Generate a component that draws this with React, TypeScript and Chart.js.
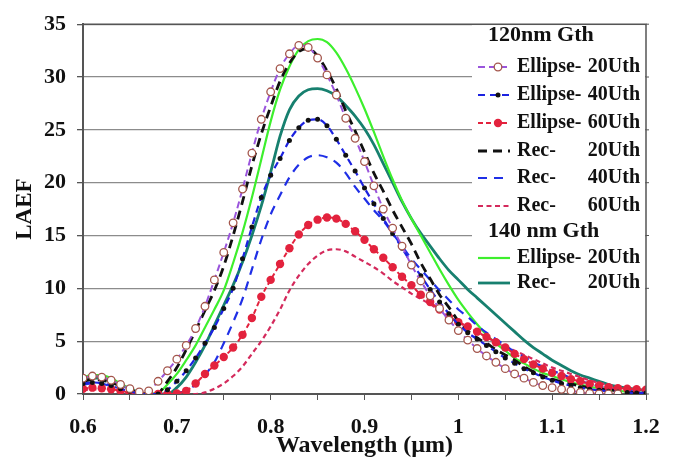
import { useEffect, useRef } from "react";
import { Chart, registerables } from "chart.js";

Chart.register(...registerables);

// Wavelength samples (µm)
const wavelength = [
  0.60, 0.61, 0.62, 0.63, 0.64, 0.65, 0.66, 0.67, 0.68, 0.69,
  0.70, 0.71, 0.72, 0.73, 0.74, 0.75, 0.76, 0.77, 0.78, 0.79,
  0.80, 0.81, 0.82, 0.83, 0.84, 0.85, 0.86, 0.87, 0.88, 0.89,
  0.90, 0.91, 0.92, 0.93, 0.94, 0.95, 0.96, 0.97, 0.98, 0.99,
  1.00, 1.01, 1.02, 1.03, 1.04, 1.05, 1.06, 1.07, 1.08, 1.09,
  1.10, 1.11, 1.12, 1.13, 1.14, 1.15, 1.16, 1.17, 1.18, 1.19,
  1.20,
];

// 120 nm Gth
const ellipse20 = [
  1.5, 1.7, 1.6, 1.3, 0.9, 0.5, 0.2, 0.3, 1.2, 2.2,
  3.3, 4.6, 6.2, 8.3, 10.8, 13.4, 16.2, 19.4, 22.8, 26.0,
  28.6, 30.8, 32.2, 33.0, 32.8, 31.8, 30.2, 28.3, 26.1, 24.2,
  22.0, 19.7, 17.5, 15.7, 14.0, 12.2, 10.7, 9.3, 8.1, 7.0,
  6.0, 5.1, 4.3, 3.6, 3.0, 2.4, 1.9, 1.5, 1.1, 0.8,
  0.6, 0.45, 0.3, 0.15, 0.05, 0.0, 0.0, 0.0,
];
const ellipse40 = [
  1.0, 1.1, 1.0, 0.8, 0.5, 0.25, 0.05, 0.0, 0.0, 0.4,
  1.2, 2.2, 3.4, 4.8, 6.3, 8.1, 10.0, 12.8, 15.8, 18.6,
  20.7, 22.3, 24.0, 25.2, 25.9, 26.0, 25.4, 24.1, 22.6, 21.1,
  19.5, 18.0, 16.6, 15.2, 13.8, 12.4, 11.2, 9.9, 8.7, 7.6,
  6.6, 5.8, 5.2, 4.6, 4.0, 3.4, 2.9, 2.4, 2.0, 1.6,
  1.3, 1.0, 0.8, 0.6, 0.45, 0.35, 0.25, 0.2, 0.15, 0.1,
  0.1,
];
const ellipse60 = [
  0.5, 0.6, 0.55, 0.45, 0.3, 0.15, 0.05, 0.0, 0.0, 0.0,
  0.05, 0.3, 1.0, 1.9, 2.7, 3.5, 4.4, 5.6, 7.2, 9.2,
  10.8, 12.3, 13.8, 15.1, 16.0, 16.5, 16.7, 16.6, 16.1, 15.4,
  14.6, 13.7, 12.9, 12.0, 11.1, 10.3, 9.4, 8.7, 8.0, 7.3,
  6.8, 6.4, 5.9, 5.4, 4.9, 4.4, 3.8, 3.3, 2.8, 2.4,
  2.0, 1.7, 1.4, 1.2, 0.95, 0.8, 0.65, 0.55, 0.5, 0.45,
  0.4,
];
const rec20 = [
  1.2, 1.35, 1.3, 1.1, 0.75, 0.4, 0.1, 0.0, 0.1, 1.2,
  2.5, 4.2, 6.0, 7.9, 9.8, 12.1, 15.0, 18.2, 21.6, 24.6,
  27.2, 29.6, 31.3, 32.4, 32.7, 32.0, 30.6, 28.9, 26.8, 24.9,
  22.9, 20.9, 19.2, 17.4, 15.8, 14.2, 12.4, 10.9, 9.4, 8.2,
  6.9, 6.0, 5.3, 4.8, 4.2, 3.7, 3.2, 2.6, 2.1, 1.7,
  1.4, 1.15, 0.95, 0.75, 0.6, 0.5, 0.4, 0.3, 0.2, 0.12,
  0.08,
];
const rec40 = [
  0.9, 1.0, 0.95, 0.75, 0.5, 0.25, 0.05, 0.0, 0.0, 0.0,
  0.1, 0.3, 0.9, 1.8, 3.0, 4.8, 6.8, 9.0, 11.8, 14.6,
  17.0, 18.8, 20.5, 21.7, 22.4, 22.6, 22.4, 21.9, 20.9, 19.6,
  18.5, 17.4, 16.4, 15.2, 14.0, 12.8, 11.8, 10.8, 9.8, 8.9,
  8.0, 7.3, 6.5, 5.8, 5.2, 4.6, 4.0, 3.5, 3.0, 2.6,
  2.2, 1.9, 1.5, 1.2, 1.0, 0.75, 0.55, 0.4, 0.3, 0.2,
  0.15,
];
const rec60 = [
  0.35, 0.45, 0.4, 0.3, 0.2, 0.1, 0.02, 0.0, 0.0, 0.0,
  0.0, 0.0, 0.0, 0.15, 0.5, 1.0, 1.7, 2.6, 3.8, 5.0,
  6.4, 8.0, 9.8, 11.2, 12.3, 13.1, 13.6, 13.7, 13.5, 13.0,
  12.5, 12.0, 11.4, 10.7, 10.1, 9.5, 9.0, 8.5, 7.9, 7.3,
  6.8, 6.3, 5.8, 5.4, 4.9, 4.5, 4.1, 3.7, 3.3, 2.9,
  2.5, 2.2, 1.9, 1.6, 1.3, 1.05, 0.85, 0.7, 0.55, 0.45,
  0.35,
];

// 140 nm Gth
const ellipse20Gth140 = [
  1.6, 1.8, 1.8, 1.5, 1.0, 0.5, 0.1, 0.0, 0.1, 0.9,
  1.9, 3.2, 4.6, 6.3, 8.0, 9.8, 12.4, 15.3, 18.6, 22.2,
  25.8, 28.8, 31.0, 32.6, 33.4, 33.6, 33.3, 32.3, 30.8, 29.0,
  27.0, 24.8, 22.5, 20.3, 18.3, 16.6, 15.0, 13.4, 11.8, 10.3,
  8.9, 7.7, 6.6, 5.6, 4.8, 4.1, 3.4, 2.9, 2.4, 2.0,
  1.7, 1.4, 1.1, 0.9, 0.7, 0.55, 0.42, 0.3, 0.22, 0.15,
  0.1,
];
const rec20Gth140 = [
  1.3, 1.5, 1.5, 1.3, 0.9, 0.5, 0.15, 0.0, 0.0, 0.0,
  0.6, 1.6, 3.0, 4.6, 6.5, 8.4, 10.3, 12.5, 15.0, 17.8,
  21.0, 24.4, 26.9, 28.2, 28.8, 28.9, 28.7, 28.2, 27.3, 26.3,
  25.1, 23.6, 21.8, 20.0, 18.2, 16.6, 15.2, 14.0, 12.8, 11.7,
  10.8, 9.9, 9.1, 8.3, 7.5, 6.7, 5.9, 5.1, 4.4, 3.8,
  3.2, 2.7, 2.2, 1.8, 1.5, 1.2, 0.9, 0.7, 0.55, 0.45,
  0.35,
];

const yTicks = [0, 5, 10, 15, 20, 25, 30, 35];
const xTickValues = [0.6, 0.7, 0.8, 0.9, 1.0, 1.1, 1.2];
const xTickLabels = ["0.6", "0.7", "0.8", "0.9", "1", "1.1", "1.2"];

const SERIF = "'Liberation Serif', 'Times New Roman', serif";

const toPoints = (ys: number[]) => ys.map((y, i) => ({ x: wavelength[i], y }));

type Row =
  | { kind: "header"; text: string }
  | { kind: "entry"; ds: number; name: string; tag: string };

const legendRows: Row[] = [
  { kind: "header", text: "120nm Gth" },
  { kind: "entry", ds: 0, name: "Ellipse-", tag: "20Uth" },
  { kind: "entry", ds: 1, name: "Ellipse-", tag: "40Uth" },
  { kind: "entry", ds: 2, name: "Ellipse-", tag: "60Uth" },
  { kind: "entry", ds: 3, name: "Rec-", tag: "20Uth" },
  { kind: "entry", ds: 4, name: "Rec-", tag: "40Uth" },
  { kind: "entry", ds: 5, name: "Rec-", tag: "60Uth" },
  { kind: "header", text: "140 nm Gth" },
  { kind: "entry", ds: 6, name: "Ellipse-", tag: "20Uth" },
  { kind: "entry", ds: 7, name: "Rec-", tag: "20Uth" },
];
const legendRowY = [35, 67, 95, 123, 151, 178, 206, 231, 258, 283];

// Legend panel sits under the curves but over the grid lines;
// frame, right-hand tick marks and legend entries go on top.
const framePlugin = {
  id: "frameAndLegend",
  beforeDatasetsDraw(chart: any) {
    const { ctx, chartArea } = chart;
    const { right, top } = chartArea;
    const boxLeft = 472;
    ctx.save();
    ctx.fillStyle = "#ffffff";
    ctx.fillRect(boxLeft, top + 1, right - boxLeft - 1, 294 - top);
    ctx.restore();
  },
  afterDraw(chart: any) {
    const { ctx, chartArea } = chart;
    const { left, right, top, bottom } = chartArea;
    const yScale = chart.scales.y;
    ctx.save();

    // frame (top + right)
    ctx.strokeStyle = "#555555";
    ctx.lineWidth = 1.5;
    ctx.setLineDash([]);
    ctx.beginPath();
    ctx.moveTo(left, top);
    ctx.lineTo(right, top);
    ctx.lineTo(right, bottom);
    ctx.stroke();

    // outward ticks on the right edge
    ctx.lineWidth = 1;
    for (const v of yTicks) {
      const py = yScale.getPixelForValue(v);
      ctx.beginPath();
      ctx.moveTo(right, py);
      ctx.lineTo(right + 3, py);
      ctx.stroke();
    }

    // legend content
    const datasets = chart.data.datasets;
    ctx.textBaseline = "middle";
    legendRows.forEach((row, i) => {
      const y = legendRowY[i];
      if (row.kind === "header") {
        ctx.font = `bold 22px ${SERIF}`;
        ctx.textAlign = "left";
        ctx.fillStyle = "#111111";
        ctx.fillText(row.text, 488, y);
        return;
      }
      const ds = datasets[row.ds];
      ctx.strokeStyle = ds.borderColor;
      ctx.lineWidth = ds.borderWidth;
      ctx.setLineDash(ds.borderDash || []);
      ctx.beginPath();
      ctx.moveTo(478, y);
      ctx.lineTo(510, y);
      ctx.stroke();
      ctx.setLineDash([]);
      if (ds.pointRadius > 0) {
        ctx.beginPath();
        ctx.arc(498, y, ds.pointRadius, 0, Math.PI * 2);
        ctx.fillStyle = ds.pointBackgroundColor;
        ctx.fill();
        if (ds.pointBorderWidth > 0) {
          ctx.strokeStyle = ds.pointBorderColor;
          ctx.lineWidth = ds.pointBorderWidth;
          ctx.stroke();
        }
      }
      ctx.fillStyle = "#111111";
      ctx.font = `bold 20px ${SERIF}`;
      ctx.textAlign = "left";
      ctx.fillText(row.name, 517, y);
      ctx.textAlign = "right";
      ctx.fillText(row.tag, 640, y);
    });
    ctx.restore();
  },
};

const PAD = { left: 8, right: 29, top: 18, bottom: 1 };

export default function App() {
  const canvasRef = useRef<HTMLCanvasElement | null>(null);

  useEffect(() => {
    const canvas = canvasRef.current;
    if (!canvas) return;

    const common = {
      fill: false,
      tension: 0.3,
      cubicInterpolationMode: "monotone" as const,
      pointHoverRadius: 0,
    };

    const chart = new Chart(canvas, {
      type: "line",
      data: {
        datasets: [
          {
            ...common,
            label: "Ellipse- 20Uth",
            data: toPoints(ellipse20),
            borderColor: "#9a55dc",
            borderWidth: 2,
            borderDash: [7, 4],
            pointRadius: 3.8,
            pointBackgroundColor: "#ffffff",
            pointBorderColor: "#a4564c",
            pointBorderWidth: 1.3,
          },
          {
            ...common,
            label: "Ellipse- 40Uth",
            data: toPoints(ellipse40),
            borderColor: "#1c22e0",
            borderWidth: 2.2,
            borderDash: [7, 5],
            pointRadius: 2.5,
            pointBackgroundColor: "#111111",
            pointBorderColor: "#111111",
            pointBorderWidth: 0,
          },
          {
            ...common,
            label: "Ellipse- 60Uth",
            data: toPoints(ellipse60),
            borderColor: "#e3223d",
            borderWidth: 2,
            borderDash: [5, 3],
            pointRadius: 4.2,
            pointBackgroundColor: "#e3223d",
            pointBorderColor: "#e3223d",
            pointBorderWidth: 0,
          },
          {
            ...common,
            label: "Rec- 20Uth",
            data: toPoints(rec20),
            borderColor: "#111111",
            borderWidth: 2.8,
            borderDash: [9, 6],
            pointRadius: 0,
          },
          {
            ...common,
            label: "Rec- 40Uth",
            data: toPoints(rec40),
            borderColor: "#1f2fe6",
            borderWidth: 2.2,
            borderDash: [9, 7],
            pointRadius: 0,
          },
          {
            ...common,
            label: "Rec- 60Uth",
            data: toPoints(rec60),
            borderColor: "#d42a5c",
            borderWidth: 2.2,
            borderDash: [5, 3.5],
            pointRadius: 0,
          },
          {
            ...common,
            label: "Ellipse- 20Uth (140 nm)",
            data: toPoints(ellipse20Gth140),
            borderColor: "#3def2d",
            borderWidth: 2.2,
            borderDash: [],
            pointRadius: 0,
          },
          {
            ...common,
            label: "Rec- 20Uth (140 nm)",
            data: toPoints(rec20Gth140),
            borderColor: "#17806f",
            borderWidth: 2.8,
            borderDash: [],
            pointRadius: 0,
          },
        ],
      },
      options: {
        animation: false,
        responsive: true,
        maintainAspectRatio: false,
        layout: { padding: PAD },
        plugins: {
          legend: { display: false },
          tooltip: { enabled: false },
        },
        scales: {
          x: {
            type: "linear",
            min: 0.6,
            max: 1.2,
            ticks: {
              stepSize: 0.05,
              autoSkip: false,
              maxRotation: 0,
              color: "#111111",
              padding: 14,
              font: { family: SERIF, size: 22, weight: "bold" },
              callback: (v: any) => {
                const idx = xTickValues.findIndex((t) => Math.abs(t - Number(v)) < 1e-6);
                return idx >= 0 ? xTickLabels[idx] : "";
              },
            },
            grid: {
              drawOnChartArea: false,
              drawTicks: true,
              tickLength: 6,
              tickColor: "#555555",
            },
            border: { color: "#555555", width: 2 },
            title: {
              display: true,
              text: "Wavelength (µm)",
              color: "#111111",
              font: { family: SERIF, size: 24, weight: "bold" },
              padding: { top: 0, bottom: 0 },
            },
            afterFit: (scale: any) => {
              scale.height = 461 - PAD.bottom - 394;
            },
          },
          y: {
            min: 0,
            max: 35,
            ticks: {
              stepSize: 5,
              color: "#111111",
              padding: 11,
              font: { family: SERIF, size: 22, weight: "bold" },
            },
            grid: {
              color: "#8c8c8c",
              lineWidth: 1.3,
              drawTicks: true,
              tickLength: 6,
              tickColor: "#555555",
            },
            border: { color: "#555555", width: 2 },
            title: {
              display: true,
              text: "LAEF",
              color: "#111111",
              font: { family: SERIF, size: 23, weight: "bold" },
              padding: { top: 3, bottom: 0 },
            },
            afterFit: (scale: any) => {
              scale.width = 83 - PAD.left;
            },
          },
        },
      },
      plugins: [framePlugin],
    });

    return () => chart.destroy();
  }, []);

  return (
    <div style={{ position: "absolute", left: 0, top: 0, width: 675, height: 461, background: "#ffffff" }}>
      <canvas ref={canvasRef} />
    </div>
  );
}
